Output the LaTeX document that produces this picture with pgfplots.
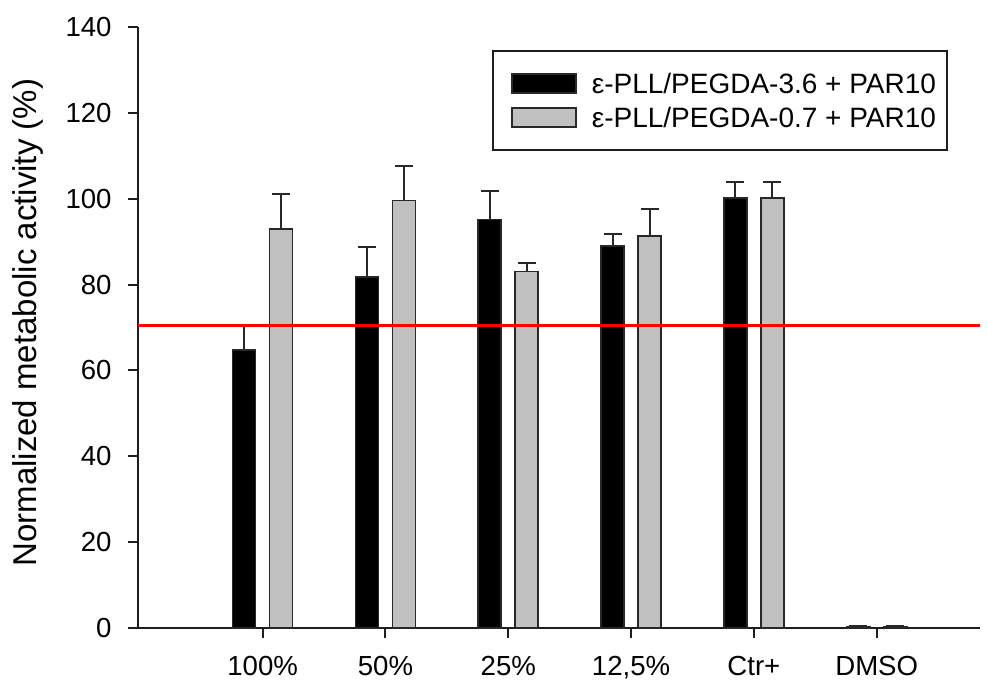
\documentclass[border=0pt]{standalone}
\usepackage{pgfplots}
\usepackage{pgfplotstable}
\pgfplotsset{compat=1.18}
\usepackage{fontspec}
\setmainfont{Liberation Sans}
\definecolor{barg}{RGB}{192,192,192}
\definecolor{edge}{RGB}{40,40,40}
\definecolor{axc}{RGB}{30,30,30}
\pgfplotstableread{
x y e
-0.1506 64.8 5.6
0.8494 81.8 7.0
1.8494 95.2 6.5
2.8494 89.0 2.8
3.8494 100.2 3.6
4.8494 0.2 0.2
}\tableA
\pgfplotstableread{
x y e
0.1506 93.0 8.0
1.1506 99.6 8.0
2.1506 83.0 2.1
3.1506 91.3 6.2
4.1506 100.1 3.7
5.1506 0.2 0.2
}\tableB
\begin{document}
\fontsize{13.5}{16}\selectfont
\begin{tikzpicture}
\useasboundingbox (-69pt,-25.5pt) rectangle (425pt,314pt);
\begin{axis}[
  at={(0,0)}, anchor=south west,
  scale only axis, width=421pt, height=300.5pt,
  xmin=-1.015, xmax=5.841, ymin=0, ymax=140,
  axis x line*=bottom, axis y line*=left,
  axis line style={line width=1pt, draw=axc},
  tick style={line width=1pt, draw=axc},
  tick align=outside, major tick length=5pt,
  xtick={0,1,2,3,4,5},
  xticklabels={100\%,50\%,25\%,{12,5\%},Ctr+,DMSO},
  ytick={0,20,...,140},
  /pgf/number format/assume math mode=true,
  ticklabel style={font=\fontsize{13.8}{16}\selectfont},
  yticklabel style={xshift=-3.5pt},
  xticklabel style={yshift=-4.3pt},
  ylabel={Normalized metabolic activity (\%)},
  ylabel style={at={(axis description cs:-0.11995,0.508)}, anchor=base, rotate=0, font=\fontsize{16.5}{18}\selectfont},
  legend style={at={(axis description cs:0.962,0.962)}, anchor=north east,
    draw=axc, line width=1pt, font=\fontsize{14}{16}\selectfont,
    inner xsep=5.5pt, inner ysep=11.25pt, row sep=6.5pt,
    nodes={inner sep=0pt, text height=10pt, text depth=0pt}},
  legend cell align=left,
]
\addplot[ybar, bar width=11.5pt, bar shift=0pt, fill=black, draw=edge, line width=0.8pt,
  legend image code/.code={\path (0pt,0pt) (43pt,0pt); \draw[fill=black, draw=edge, line width=0.8pt] (3.5pt,-4.75pt) rectangle (35.5pt,4.75pt);},
  error bars/.cd, y dir=plus, y explicit,
    error bar style={line width=1pt, draw=edge, solid},
    error mark options={rotate=90, mark size=4.5pt, line width=1pt, draw=edge}]
  table[x=x, y=y, y error=e]{\tableA};
\addlegendentry{ε-PLL/PEGDA-3.6 + PAR10}
\addplot[ybar, bar width=11.5pt, bar shift=0pt, fill=barg, draw=edge, line width=0.8pt,
  legend image code/.code={\path (0pt,0pt) (43pt,0pt); \draw[fill=barg, draw=edge, line width=0.8pt] (3.5pt,-4.75pt) rectangle (35.5pt,4.75pt);},
  error bars/.cd, y dir=plus, y explicit,
    error bar style={line width=1pt, draw=edge, solid},
    error mark options={rotate=90, mark size=4.5pt, line width=1pt, draw=edge}]
  table[x=x, y=y, y error=e]{\tableB};
\addlegendentry{ε-PLL/PEGDA-0.7 + PAR10}
\addplot[red, line width=1.5pt, forget plot] coordinates {(-1.015,70.35) (5.841,70.35)};
\end{axis}
\end{tikzpicture}
\end{document}
